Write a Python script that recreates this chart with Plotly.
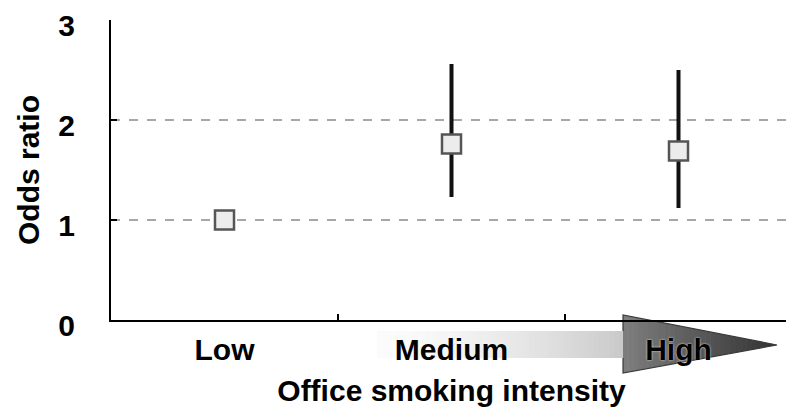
import plotly.graph_objects as go

# ---- data ----
categories = ["Low", "Medium", "High"]
odds_ratio = [1.0, 1.76, 1.69]
ci_lower = [1.0, 1.23, 1.12]
ci_upper = [1.0, 2.56, 2.50]
y_ticks = [0, 1, 2, 3]
ref_lines = [1, 2]

# ---- layout geometry (pixels); page body has an 8px offset ----
OFF = 8
W, H = 794 - OFF, 409 - OFF
L, T = 111 - OFF, 20 - OFF
PLOT_RIGHT, PLOT_BOTTOM = 792 - OFF, 320 - OFF
R, B = W - PLOT_RIGHT, H - PLOT_BOTTOM
PW, PH = W - L - R, H - T - B


def px(x):
    # reference pixel x -> paper coordinate
    return (x - OFF - L) / PW


def py(y):
    # reference pixel y -> paper coordinate
    return (PLOT_BOTTOM - (y - OFF)) / PH


err_plus = [u - v for u, v in zip(ci_upper, odds_ratio)]
err_minus = [v - l for v, l in zip(odds_ratio, ci_lower)]

FONT = "Liberation Sans, Arial, sans-serif"

fig = go.Figure()
fig.add_trace(go.Scatter(
    x=categories, y=odds_ratio, mode="markers",
    marker=dict(symbol="square", size=19, color="#ececec",
                line=dict(color="#555555", width=2.5)),
    error_y=dict(type="data", symmetric=False, array=err_plus,
                 arrayminus=err_minus, color="#111111", thickness=4, width=0),
    showlegend=False, hoverinfo="skip",
))

shapes = []
# dashed reference lines
for v in ref_lines:
    shapes.append(dict(type="line", xref="paper", x0=0, x1=1, yref="y", y0=v, y1=v,
                       line=dict(color="#8a8a8a", width=1.5, dash="dash"), layer="below"))

# gradient arrow (decoration under the category labels)
x_start, x_neck, x_tip = 377, 623, 777
shaft_top, shaft_bot = 331, 358
head_top, head_bot, tip_y = 315, 373, 345


def top(x):
    if x < x_neck:
        return shaft_top
    return head_top + (tip_y - head_top) * (x - x_neck) / (x_tip - x_neck)


def bot(x):
    if x < x_neck:
        return shaft_bot
    return head_bot + (tip_y - head_bot) * (x - x_neck) / (x_tip - x_neck)


edges = []
n1, n2 = 50, 30
for i in range(n1):
    edges.append(x_start + (x_neck - x_start) * i / n1)
for i in range(n2 + 1):
    edges.append(x_neck + (x_tip - x_neck) * i / n2)

for a, b in zip(edges[:-1], edges[1:]):
    t = ((a + b) / 2 - x_start) / (x_tip - x_start)
    if a < x_neck:
        g = int(252 - 110 * t ** 1.6)
    else:
        g = int(125 - 75 * ((a - x_neck) / (x_tip - x_neck)))
    bb = min(b + 0.6, x_tip)
    if a < x_neck:
        pts = [(a, shaft_top), (bb, shaft_top), (bb, shaft_bot), (a, shaft_bot)]
    else:
        pts = [(a, top(a)), (bb, top(bb)), (bb, bot(bb)), (a, bot(a))]
    path = "M " + " L ".join(f"{px(x):.5f},{py(y):.5f}" for x, y in pts) + " Z"
    shapes.append(dict(type="path", xref="paper", yref="paper", path=path,
                       fillcolor=f"rgb({g},{g},{g})", line=dict(width=0), layer="below"))

head_pts = [(x_neck, shaft_top), (x_neck, head_top), (x_tip, tip_y),
            (x_neck, head_bot), (x_neck, shaft_bot)]
shapes.append(dict(type="path", xref="paper", yref="paper",
                   path="M " + " L ".join(f"{px(x):.5f},{py(y):.5f}" for x, y in head_pts),
                   line=dict(color="#3a3a3a", width=1.2), layer="below"))

fig.update_layout(
    width=W, height=H,
    margin=dict(l=L, r=R, t=T, b=B, pad=0, autoexpand=False),
    paper_bgcolor="white", plot_bgcolor="white",
    font=dict(family=FONT, color="black"),
    shapes=shapes,
    xaxis=dict(
        type="category", range=[-0.5, 2.5], automargin=False,
        showline=True, linecolor="black", linewidth=2,
        showgrid=False, zeroline=False,
        ticks="inside", tickson="boundaries", ticklen=6, tickcolor="black", tickwidth=1.5,
        tickfont=dict(size=30, weight="bold", family=FONT,
                      shadow="0px 0px 2px white"),
        ticklabelstandoff=2, ticklabeloverflow="allow",
        title=dict(text="Office smoking intensity",
                   font=dict(size=30, weight="bold", family=FONT), standoff=15),
    ),
    yaxis=dict(
        range=[0, 3], tickvals=y_ticks, automargin=False,
        showline=True, linecolor="black", linewidth=2,
        showgrid=False, zeroline=False,
        ticks="inside", ticklen=6, tickcolor="black", tickwidth=1.5,
        tickfont=dict(size=30, weight="bold", family=FONT),
        ticklabelstandoff=28, ticklabeloverflow="allow", ticklabelshift=5,
        title=dict(text="Odds ratio",
                   font=dict(size=30, weight="bold", family=FONT), standoff=10),
    ),
)

fig.write_html("out.html")
